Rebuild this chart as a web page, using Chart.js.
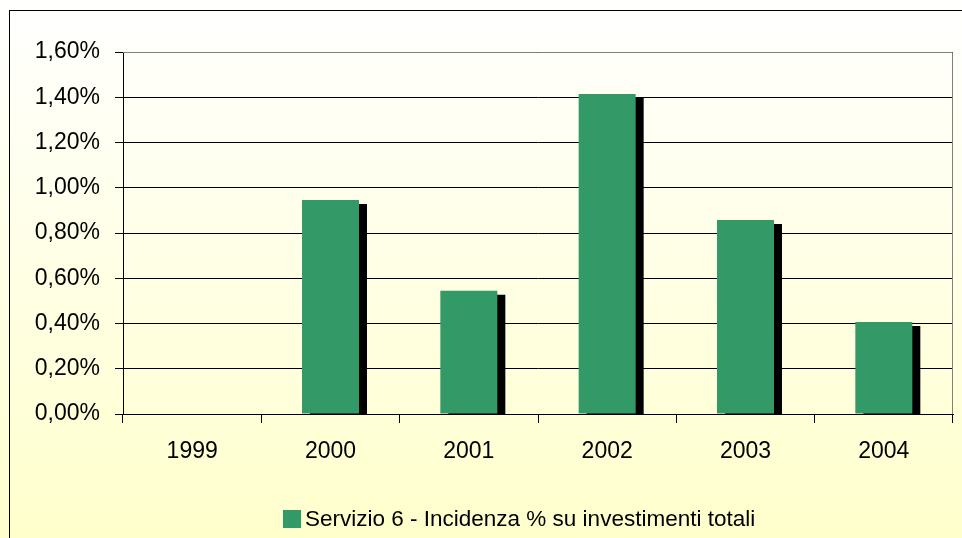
<!DOCTYPE html>
<html>
<head>
<meta charset="utf-8">
<script src="https://cdn.jsdelivr.net/npm/chart.js@4.4.1/dist/chart.umd.min.js"></script>
<style>
  html, body { margin: 0; padding: 0; background: #fff; }
  #wrap { position: relative; width: 962px; height: 538px; }
</style>
</head>
<body>
<div id="wrap"><canvas id="incidenzaChart"></canvas></div>
<script>
const years = ['1999', '2000', '2001', '2002', '2003', '2004'];
const incidenza = [0, 0.946, 0.545, 1.414, 0.857, 0.407];
const seriesLabel = 'Servizio 6 - Incidenza % su investimenti totali';
const yMax = 1.6;
const yStep = 0.2;

const green = '#339966';
const fontFamily = '"Liberation Sans", Arial, sans-serif';

// gradient background + outer frame
const chartBackground = {
    id: 'chartBackground',
    beforeDraw(chart) {
        const ctx = chart.ctx;
        const g = ctx.createLinearGradient(0, 0, 0, chart.height);
        g.addColorStop(0, '#ffffff');
        g.addColorStop(1, '#ffffcc');
        ctx.save();
        ctx.fillStyle = g;
        ctx.fillRect(0, 0, chart.width, chart.height);
        ctx.restore();
    },
    afterDraw(chart) {
        const ctx = chart.ctx;
        ctx.save();
        ctx.strokeStyle = '#000';
        ctx.lineWidth = 1;
        ctx.strokeRect(9.5, 10.5, chart.width + 20, chart.height + 20);
        ctx.restore();
    }
};

// gray top/right edge of the plot area
const plotFrame = {
    id: 'plotFrame',
    beforeDatasetsDraw(chart) {
        const a = chart.chartArea;
        const ctx = chart.ctx;
        ctx.save();
        ctx.strokeStyle = '#808080';
        ctx.lineWidth = 1;
        ctx.beginPath();
        ctx.moveTo(a.left, a.top + 0.5);
        ctx.lineTo(a.right - 0.5, a.top + 0.5);
        ctx.lineTo(a.right - 0.5, a.bottom);
        ctx.stroke();
        ctx.restore();
    }
};

// black drop shadow on the bars
const barShadow = {
    id: 'barShadow',
    beforeDatasetDraw(chart) {
        const ctx = chart.ctx;
        ctx.save();
        ctx.shadowColor = '#000';
        ctx.shadowBlur = 0;
        ctx.shadowOffsetX = 8;
        ctx.shadowOffsetY = 4;
    },
    afterDatasetDraw(chart) {
        chart.ctx.restore();
    }
};

// legend drawn below the plot
const bottomLegend = {
    id: 'bottomLegend',
    afterDraw(chart) {
        const ctx = chart.ctx;
        const a = chart.chartArea;
        const ds = chart.data.datasets[0];
        const x = a.left + 160;
        const y = 510;
        ctx.save();
        ctx.fillStyle = ds.backgroundColor;
        ctx.fillRect(x, y, 18, 18);
        ctx.fillStyle = '#000';
        ctx.font = '22.5px ' + fontFamily;
        ctx.textBaseline = 'middle';
        ctx.textAlign = 'left';
        ctx.fillText(ds.label, x + 22, y + 10);
        ctx.restore();
    }
};

const ctx = document.getElementById('incidenzaChart').getContext('2d');
const incidenzaChart = new Chart(ctx, {
    type: 'bar',
    data: {
        labels: years,
        datasets: [{
            label: seriesLabel,
            data: incidenza,
            backgroundColor: green,
            borderWidth: 0,
            categoryPercentage: 1,
            barPercentage: 0.412,
            clip: 0
        }]
    },
    options: {
        responsive: true,
        maintainAspectRatio: false,
        animation: false,
        layout: {
            padding: { left: 9, top: 52, right: 9, bottom: 0 }
        },
        plugins: {
            legend: { display: false },
            tooltip: { enabled: false }
        },
        scales: {
            x: {
                afterFit: (scale) => { scale.height = 124; },
                grid: {
                    drawOnChartArea: false,
                    tickLength: 9,
                    color: '#000',
                    offset: true
                },
                border: { color: '#000', width: 1 },
                ticks: {
                    color: '#000',
                    padding: 15,
                    font: { family: fontFamily, size: 23 }
                }
            },
            y: {
                min: 0,
                max: yMax,
                afterFit: (scale) => { scale.width = 114; },
                grid: {
                    color: '#000',
                    tickLength: 8
                },
                border: { color: '#000', width: 1 },
                ticks: {
                    stepSize: yStep,
                    color: '#000',
                    padding: 15,
                    font: { family: fontFamily, size: 23 },
                    callback: (v) => v.toFixed(2).replace('.', ',') + '%'
                }
            }
        }
    },
    plugins: [chartBackground, plotFrame, barShadow, bottomLegend]
});
</script>
</body>
</html>
